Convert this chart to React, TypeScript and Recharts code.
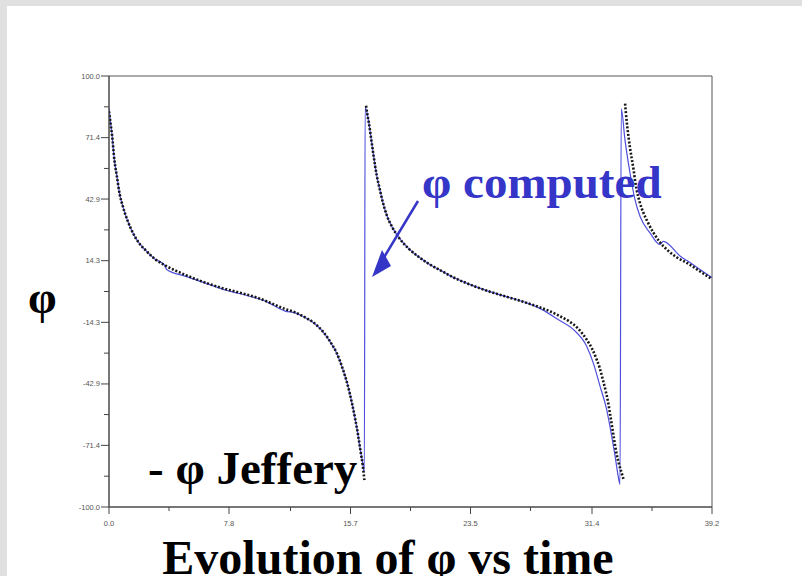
import { ComposedChart, Line, XAxis, YAxis, ReferenceArea } from 'recharts';

// Jeffery orbit, three cycles; null rows break the curve at each flip
const jefferyTime = [
    0, 0.1, 0.2, 0.35, 0.5, 0.7, 0.9, 1.2, 1.5, 1.9, 2.4, 3.0, 3.6, 4.3, 5.0, 5.8, 6.6, 7.4, 8.2, 9.0,
    9.8, 10.6, 11.4, 12.1, 12.8, 13.4, 13.9, 14.4, 14.8, 15.2, 15.5, 15.8, 16.0, 16.2, 16.35, 16.5, 16.6,
    16.66,
    16.71, 16.8, 16.9, 17.05, 17.2, 17.4, 17.6, 17.8, 18.05, 18.4, 18.9, 19.5, 20.1, 20.8, 21.6, 22.4, 23.2, 24.0,
    24.8, 25.6, 26.4, 27.2, 28.0, 28.7, 29.3, 29.9, 30.5, 31.05, 31.4, 31.7, 31.9, 32.1, 32.3, 32.45, 32.6, 32.8,
    33.0, 33.15, 33.3, 33.45,
    33.5,
    33.55, 33.66, 33.77, 33.87, 34.0, 34.1, 34.2, 34.3, 34.5, 34.74, 35.0, 35.4, 35.8, 36.26, 36.9, 37.56, 38.2,
    38.7, 39.2,
];
const jefferyPhi = [
    83.6, 78, 72.5, 61, 54, 45, 39.5, 33, 28, 23, 19, 15, 12.3, 9.8, 7.6, 5.3, 3.3, 1.5, 0, -1.5,
    -3.3, -5.6, -8.0, -9.7, -12.2, -15.0, -18.5, -23.5, -28.5, -36, -43, -52, -59, -67, -74, -81, -87.5,
    null,
    86.2, 82, 78, 70.5, 63, 54, 47.5, 41.5, 35.5, 30, 24.5, 19.8, 16.2, 12.8, 9.6, 6.5, 4.0, 1.8,
    -0.2, -1.9, -3.6, -5.4, -7.3, -9.3, -11.4, -13.8, -17.2, -22.3, -26.5, -31.5, -35.5, -40.8, -46.5, -51.5, -58, -67,
    -75.5, -80, -83.5, -87.2,
    null,
    87.2, 78.5, 72, 66.6, 61, 56.6, 51.5, 47.3, 41.5, 36.5, 32.5, 27.2, 23, 19.5, 15.9, 13.3, 10.4,
    8.0, 5.8,
];

// computed solution (continuous, with the vertical flips)
const computedTime = [
    0, 0.1, 0.2, 0.35, 0.5, 0.7, 0.9, 1.2, 1.5, 1.9, 2.4, 3.0, 3.6, 3.75, 5.0, 6.5, 7.6, 8.4, 9.2, 10.2,
    11.45, 12.1, 12.8, 13.4, 13.9, 14.4, 14.8, 15.2, 15.5, 15.8, 16.0, 16.2, 16.35, 16.5, 16.6,
    16.65, 16.8, 16.9, 17.05, 17.2, 17.4, 17.6, 17.8, 18.05, 18.4, 18.9, 19.5, 20.1, 20.8, 21.6, 22.4, 23.2, 24.0,
    24.8, 25.6, 26.4, 27.2, 28.13, 29.3, 30.18, 31.05, 31.48, 31.92, 32.35, 32.68, 32.9, 33.1, 33.22,
    33.3, 33.54, 33.87, 34.19, 34.52, 35.17, 35.82, 36.03, 37.14, 37.79, 39.07, 39.2,
];
const computedPhi = [
    85, 78.5, 72.5, 61, 54, 45, 39.5, 33, 28, 23, 19, 15, 12.3, 10.2, 7.0, 3.3, 0.6, -0.8, -2.3, -4.6,
    -9.1, -9.9, -12.3, -15.1, -18.6, -23.6, -28.6, -36, -43, -52, -59, -67, -74, -80, -84,
    85.5, 82, 78, 70.5, 63, 54, 47.5, 41.5, 35.5, 30, 24.5, 19.8, 16.2, 12.8, 9.6, 6.5, 4.0, 1.8,
    -0.2, -1.9, -3.6, -5.4, -8.3, -13.5, -17.6, -25.4, -33.1, -43.9, -54.7, -67.1, -76.4, -85.6, -89.5,
    84.7, 70.5, 55.0, 42.7, 34.9, 27.2, 21.8, 23.3, 16.4, 13.3, 7.1, 6.5,
];

const xMajorTicks = [0, 7.8, 15.7, 23.5, 31.4, 39.2];
const xMinorTicks = [3.9, 11.8, 19.6, 27.4, 35.3];
const yMajorTicks = [-100, -71.4, -42.9, -14.3, 14.3, 42.9, 71.4, 100];
const yMinorTicks = [-85.7, -57.1, -28.6, 0, 28.6, 57.1, 85.7];

const jefferyData = jefferyTime.map((t, i) => ({ t, phi: jefferyPhi[i] }));
const computedData = computedTime.map((t, i) => ({ t, phi: computedPhi[i] }));

const AXIS = '#444';
const BLUE = '#3535c8';
const SERIF = '"Liberation Serif", "Times New Roman", serif';
const tickFont = { fontFamily: '"Liberation Sans", Arial, sans-serif', fontSize: 7.5, fill: '#555' };

const XTick = ({ x, y, payload }: any) => {
    const major = xMajorTicks.includes(payload.value);
    return (
        <g>
            <line x1={x} x2={x} y1={y} y2={y + (major ? 7 : 4)} stroke={AXIS} />
            {major && (
                <text x={x} y={y + 19} textAnchor="middle" {...tickFont}>
                    {payload.value.toFixed(1)}
                </text>
            )}
        </g>
    );
};

const YTick = ({ x, y, payload }: any) => {
    const major = yMajorTicks.includes(payload.value);
    return (
        <g>
            <line x1={x - (major ? 8 : 5)} x2={x} y1={y} y2={y} stroke={AXIS} />
            {major && (
                <text x={x - 9} y={y + 2.5} textAnchor="end" {...tickFont}>
                    {payload.value.toFixed(1)}
                </text>
            )}
        </g>
    );
};

export default function App() {
    return (
        <div style={{ position: 'absolute', left: 0, top: 0, width: 802, height: 576, overflow: 'hidden', background: '#e0e0e0' }}>
            <div style={{ position: 'absolute', left: 7, top: 6, right: 0, bottom: 0, background: '#fff' }} />
            <div style={{ position: 'absolute', left: 0, top: 0 }}>
                <ComposedChart width={802} height={576} margin={{ top: 76, right: 90, bottom: 49, left: 69 }}>
                    <XAxis
                        dataKey="t"
                        type="number"
                        domain={[0, 39.2]}
                        allowDataOverflow
                        ticks={[...xMajorTicks, ...xMinorTicks].sort((a, b) => a - b)}
                        interval={0}
                        tick={<XTick />}
                        tickLine={false}
                        tickSize={0}
                        tickMargin={0}
                        height={20}
                        axisLine={{ stroke: AXIS }}
                    />
                    <YAxis
                        type="number"
                        domain={[-100, 100]}
                        allowDataOverflow
                        ticks={[...yMajorTicks, ...yMinorTicks].sort((a, b) => a - b)}
                        interval={0}
                        tick={<YTick />}
                        tickLine={false}
                        tickSize={0}
                        tickMargin={0}
                        width={40}
                        axisLine={{ stroke: AXIS }}
                    />
                    <ReferenceArea x1={0} x2={39.2} y1={-100} y2={100} fill="none" stroke="#555" strokeOpacity={1} />
                    <Line
                        data={computedData}
                        dataKey="phi"
                        type="monotone"
                        stroke="#4f4fdc"
                        strokeWidth={1.2}
                        dot={false}
                        isAnimationActive={false}
                    />
                    <Line
                        data={jefferyData}
                        dataKey="phi"
                        type="monotone"
                        stroke="#161616"
                        strokeWidth={2.6}
                        strokeDasharray="2 1.8"
                        dot={false}
                        connectNulls={false}
                        isAnimationActive={false}
                    />
                </ComposedChart>
            </div>
            <svg width={802} height={576} style={{ position: 'absolute', left: 0, top: 0, pointerEvents: 'none' }}>
                <text x={28} y={313} fontFamily={SERIF} fontSize={46} fontWeight="bold" fill="#000">φ</text>
                <text x={422} y={198} fontFamily={SERIF} fontSize={47} fontWeight="bold" fill={BLUE}>φ computed</text>
                <line x1={418} y1={201} x2={383} y2={259} stroke={BLUE} strokeWidth={2.5} />
                <polygon points="372,277 382,250 391,266" fill={BLUE} />
                <text x={148} y={484} fontFamily={SERIF} fontSize={47} fontWeight="bold" fill="#000">- φ Jeffery</text>
                <text x={388} y={574} textAnchor="middle" fontFamily={SERIF} fontSize={48} fontWeight="bold" fill="#000">
                    Evolution of φ vs time
                </text>
            </svg>
        </div>
    );
}
